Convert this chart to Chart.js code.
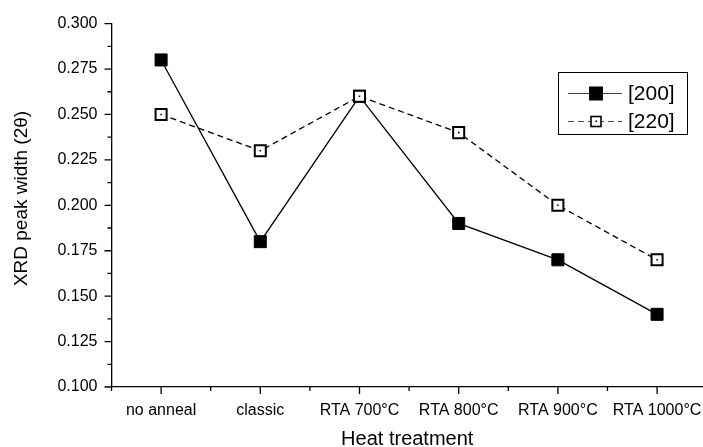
<!DOCTYPE html>
<html><head><meta charset="utf-8">
<script src="https://cdn.jsdelivr.net/npm/chart.js@4/dist/chart.umd.min.js"></script>
<style>html,body{margin:0;padding:0;background:#fff}#wrap{width:703px;height:447px}</style>
</head><body><div id="wrap"><canvas id="c" width="703" height="447"></canvas></div>
<script>
const categories = ["no anneal", "classic", "RTA 700°C", "RTA 800°C", "RTA 900°C", "RTA 1000°C"];
const series200 = [0.28, 0.18, 0.26, 0.19, 0.17, 0.14];
const series220 = [0.25, 0.23, 0.26, 0.24, 0.20, 0.17];
const seriesLabels = ["[200]", "[220]"];
const yTickValues = [0.100, 0.125, 0.150, 0.175, 0.200, 0.225, 0.250, 0.275, 0.300];
const xTitle = "Heat treatment";
const yTitle = "XRD peak width (2θ)";

const FONT = '"Liberation Sans", Arial, sans-serif';
const CAT_STEP = 99.2;
const toPts = arr => arr.map((v, i) => ({x: i, y: v}));

const tickPlugin = {
  id: 'ticks',
  afterDraw(chart) {
    const ctx = chart.ctx, xs = chart.scales.x, ys = chart.scales.y;
    const ca = chart.chartArea;
    ctx.save();
    ctx.strokeStyle = '#000';
    ctx.lineWidth = 1.3;
    ctx.beginPath();
    for (let i = 0; i < categories.length; i++) {
      const p = xs.getPixelForValue(i);
      ctx.moveTo(p, ca.bottom); ctx.lineTo(p, ca.bottom + 7);
      const m = xs.getPixelForValue(i - 0.5);
      ctx.moveTo(m, ca.bottom); ctx.lineTo(m, ca.bottom + 4);
    }
    for (let k = 0; k < yTickValues.length; k++) {
      const p = ys.getPixelForValue(yTickValues[k]);
      ctx.moveTo(ca.left, p); ctx.lineTo(ca.left - 7, p);
      if (k < yTickValues.length - 1) {
        const m = ys.getPixelForValue((yTickValues[k] + yTickValues[k + 1]) / 2);
        ctx.moveTo(ca.left, m); ctx.lineTo(ca.left - 4, m);
      }
    }
    ctx.stroke();
    // category labels
    ctx.fillStyle = '#000';
    ctx.font = '16px ' + FONT;
    ctx.textAlign = 'center';
    ctx.textBaseline = 'alphabetic';
    categories.forEach((c, i) => ctx.fillText(c, xs.getPixelForValue(i), ca.bottom + 28));
    // y title
    ctx.font = '19px ' + FONT;
    ctx.textBaseline = 'middle';
    ctx.translate(22, 198.5);
    ctx.rotate(-Math.PI / 2);
    ctx.fillText(yTitle, 0, 0);
    ctx.restore();
  }
};

const legendPlugin = {
  id: 'customLegend',
  afterDraw(chart) {
    const ctx = chart.ctx;
    ctx.save();
    ctx.strokeStyle = '#000';
    ctx.lineWidth = 1;
    ctx.strokeRect(558.5, 72.5, 129, 62);
    const rows = [93, 121];
    const sets = [chart.data.datasets[2], chart.data.datasets[1]];
    rows.forEach((y, i) => {
      const ds = sets[i];
      ctx.beginPath();
      ctx.strokeStyle = '#444';
      ctx.lineWidth = 1;
      ctx.setLineDash(ds.borderDash || []);
      ctx.moveTo(568, y + 0.5); ctx.lineTo(622, y + 0.5);
      ctx.stroke();
      ctx.setLineDash([]);
      if (i === 0) {
        ctx.fillStyle = '#000';
        ctx.fillRect(589, y - 6.5, 14, 14);
      } else {
        ctx.fillStyle = '#fff';
        ctx.fillRect(590.5, y - 5, 11, 11);
        ctx.strokeStyle = '#000';
        ctx.lineWidth = 1.6;
        ctx.strokeRect(591, y - 4.5, 10, 10);
        ctx.fillStyle = '#000';
        ctx.fillRect(595.5, y - 0.5, 1.5, 1.5);
      }
      ctx.fillStyle = '#000';
      ctx.font = '21px ' + FONT;
      ctx.textBaseline = 'middle';
      ctx.textAlign = 'left';
      ctx.fillText(seriesLabels[i], 628, y + 1);
    });
    ctx.restore();
  }
};

const chart = new Chart(document.getElementById('c'), {
  type: 'line',
  data: {
    datasets: [
      {
        label: 'dots',
        data: toPts(series220),
        showLine: false,
        pointStyle: 'rect',
        pointRadius: 1.1,
        pointBackgroundColor: '#000',
        pointBorderWidth: 0,
        borderWidth: 0
      },
      {
        label: seriesLabels[1],
        data: toPts(series220),
        borderColor: '#000',
        borderWidth: 1.3,
        borderDash: [6, 4],
        pointStyle: 'rect',
        pointRadius: 7.8,
        pointBorderWidth: 2,
        pointBorderColor: '#000',
        pointBackgroundColor: '#fff',
        tension: 0
      },
      {
        label: seriesLabels[0],
        data: toPts(series200),
        borderColor: '#000',
        borderWidth: 1.3,
        pointStyle: 'rect',
        pointRadius: 8.5,
        pointBorderWidth: 1,
        pointBorderColor: '#000',
        pointBackgroundColor: '#000',
        tension: 0
      }
    ]
  },
  options: {
    responsive: false,
    animation: false,
    events: [],
    layout: {autoPadding: false, padding: {top: 23, right: 0, bottom: 0, left: 0}},
    plugins: {legend: {display: false}, tooltip: {enabled: false}},
    scales: {
      x: {
        type: 'linear',
        min: -0.5,
        max: 5.463,
        afterBuildTicks: s => { s.ticks = categories.map((c, i) => ({value: i})); },
        afterFit: s => { s.height = 60; },
        grid: {drawOnChartArea: false, drawTicks: false},
        border: {display: true, color: '#000', width: 1.3},
        ticks: {display: false},
        title: {display: true, text: xTitle, color: '#000', font: {family: FONT, size: 20, lineHeight: 1}, padding: {top: 0, bottom: -2}}
      },
      y: {
        type: 'linear',
        min: 0.1,
        max: 0.3,
        afterBuildTicks: s => { s.ticks = yTickValues.map(v => ({value: v})); },
        afterFit: s => { s.width = 111.5; },
        grid: {drawOnChartArea: false, drawTicks: false},
        border: {display: true, color: '#000', width: 1.3},
        ticks: {
          color: '#000',
          font: {family: FONT, size: 16},
          padding: 14,
          callback: v => Number(v).toFixed(3)
        },
        title: {display: false}
      }
    }
  },
  plugins: [tickPlugin, legendPlugin]
});
// keep category spacing matching the reference, whatever width the layout gives the plot
const ca0 = chart.chartArea;
const wantMax = -0.5 + (ca0.right - ca0.left) / CAT_STEP;
if (Math.abs(wantMax - chart.options.scales.x.max) > 0.001) {
  chart.options.scales.x.max = wantMax;
  chart.update();
}
</script>
</body></html>
